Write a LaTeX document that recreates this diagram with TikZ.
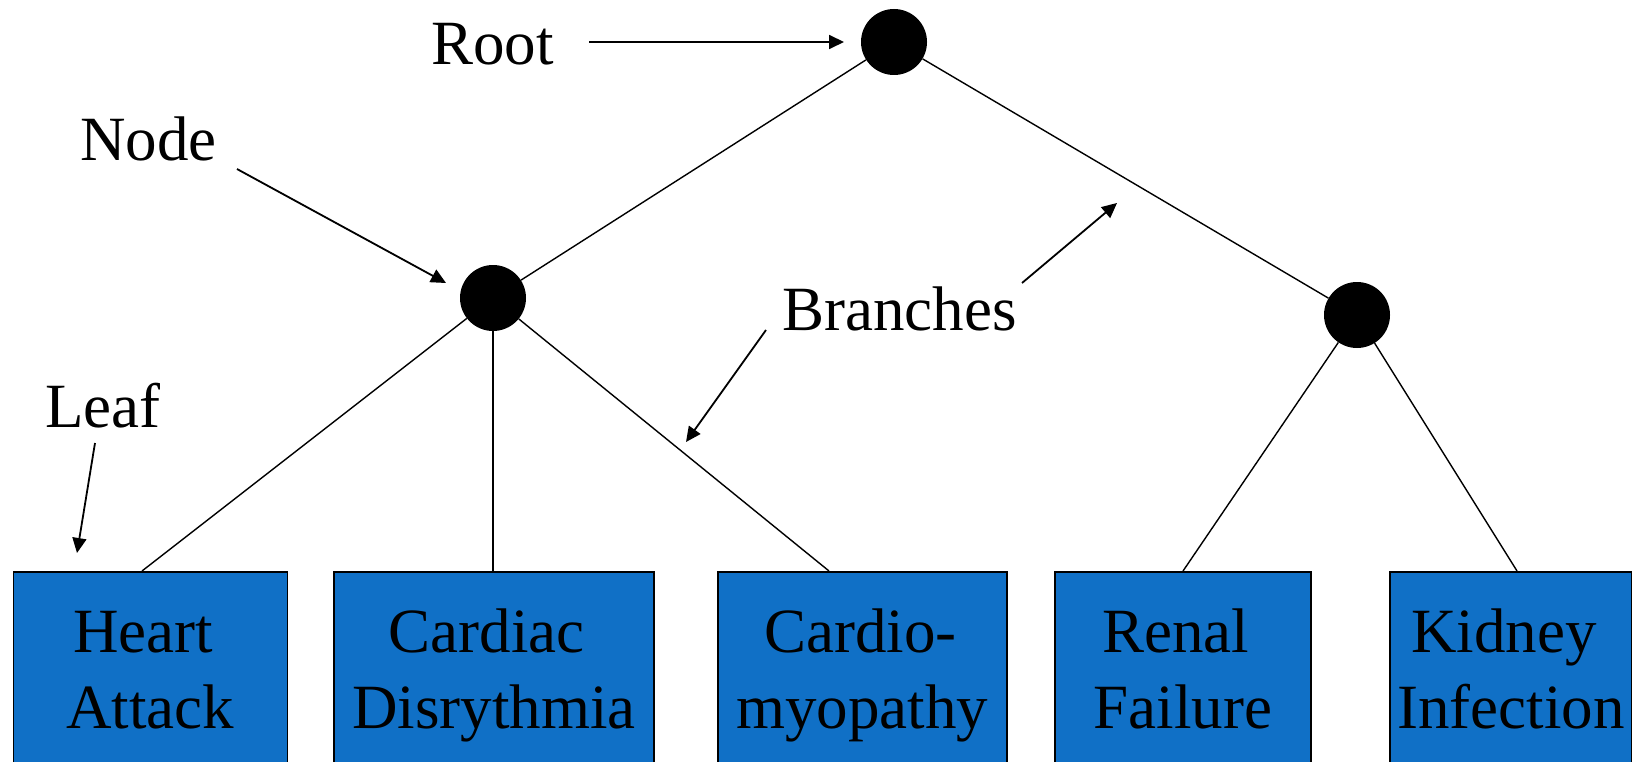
\documentclass[tikz,border=0pt]{standalone}
\usepackage{fontspec}
\setmainfont{Liberation Serif}
\usetikzlibrary{arrows.meta}
\definecolor{leafblue}{RGB}{16,112,198}
\begin{document}
\begin{tikzpicture}[x=1pt,y=-1pt,
  bigfont/.style={font=\fontsize{63}{76}\selectfont},
  dot/.style={circle,fill=black,draw=none,minimum size=66pt,inner sep=0pt},
  leafbox/.style={rectangle,draw=black,line width=1.8pt,fill=leafblue,inner sep=0pt,
    minimum height=207.6pt,anchor=north west,align=center,bigfont},
  lbl/.style={inner sep=0pt,anchor=base west,bigfont},
  branch/.style={line width=1.4pt},
  pointer/.style={line width=1.8pt,-{Triangle[length=15pt,width=14pt]}}]
\clip (0,0) rectangle (1632,762);
\fill[white] (0,0) rectangle (1632,762);
% tree nodes
\node[dot] (root) at (894,42) {};
\node[dot] (ln) at (493,298) {};
\node[dot] (rn) at (1357,315) {};
% leaf boxes
\node[leafbox,minimum width=274pt] (hA) at (12.5,571) {\strut Heart\kern14pt\\Attack\strut};
\node[leafbox,minimum width=320pt] (cD) at (333,571) {\strut Cardiac\kern14pt\\Disrythmia\strut};
\node[leafbox,minimum width=289pt] (cM) at (717,571) {\strut Cardio-\kern4pt\\myopathy\strut};
\node[leafbox,minimum width=256pt] (rF) at (1054,571) {\strut Renal\kern14pt\\Failure\strut};
\node[leafbox,minimum width=242pt] (kI) at (1389,571) {\strut Kidney\kern14pt\\Infection\strut};
% attachment points on box tops
\coordinate (hAtop) at (142,571);
\coordinate (cDtop) at (493,571);
\coordinate (cMtop) at (829,571);
\coordinate (rFtop) at (1183,571);
\coordinate (kItop) at (1517,571);
% branches
\draw[branch] (root) -- (ln);
\draw[branch] (root) -- (rn);
\draw[branch] (ln) -- (hAtop);
\draw[branch] (ln) -- (cDtop);
\draw[branch] (ln) -- (cMtop);
\draw[branch] (rn) -- (rFtop);
\draw[branch] (rn) -- (kItop);
% labels
\node[lbl] (rootlbl) at (431,65) {Root};
\node[lbl] (nodelbl) at (80,161) {Node};
\node[lbl] (brlbl) at (782,330) {Branches};
\node[lbl] (leaflbl) at (45,427) {Leaf};
% pointer arrows
\coordinate (rootS) at (589,42);
\coordinate (rootE) at (844,42);
\coordinate (nodeS) at (237,169);
\coordinate (nodeE) at (446,283);
\coordinate (leafS) at (95,443);
\coordinate (leafE) at (77,553);
\coordinate (brS1) at (766,330);
\coordinate (brE1) at (686,442);
\coordinate (brS2) at (1022,283);
\coordinate (brE2) at (1117,203);
\draw[pointer] (rootS) -- (rootE);
\draw[pointer] (nodeS) -- (nodeE);
\draw[pointer] (leafS) -- (leafE);
\draw[pointer] (brS1) -- (brE1);
\draw[pointer] (brS2) -- (brE2);
\end{tikzpicture}
\end{document}
